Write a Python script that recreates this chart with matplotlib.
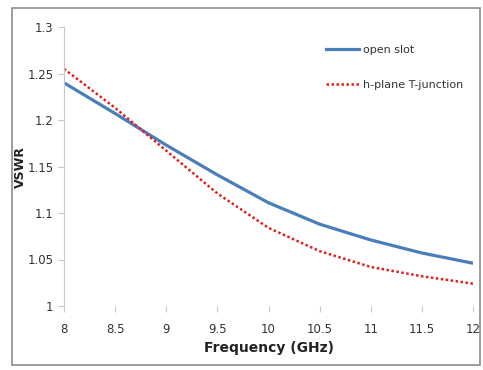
import matplotlib.pyplot as plt
from matplotlib.patches import Rectangle

freq = [8, 8.5, 9, 9.5, 10, 10.5, 11, 11.5, 12]
open_slot = [1.240, 1.207, 1.173, 1.141, 1.111, 1.088, 1.071, 1.057, 1.046]
t_junction = [1.255, 1.213, 1.167, 1.121, 1.084, 1.059, 1.042, 1.032, 1.024]
xticks = [8, 8.5, 9, 9.5, 10, 10.5, 11, 11.5, 12]
yticks = [1, 1.05, 1.1, 1.15, 1.2, 1.25, 1.3]

plt.rcParams['font.family'] = ['Liberation Sans Narrow', 'DejaVu Sans']

fig = plt.figure(figsize=(4.83, 3.70), dpi=100)
# outer chart frame
fig.patches.append(Rectangle((12/483, 5/370), 468/483, 357/370, transform=fig.transFigure,
                             fill=False, edgecolor='#8c8c8c', linewidth=1.2))
ax = fig.add_axes([64/483, 1-306/370, 409/483, 279/370])

ax.plot(freq, open_slot, color='#4a7ebb', linewidth=2.3, label='open slot')
ax.plot(freq, t_junction, color='#e0201b', linewidth=1.8, linestyle=(0, (1, 1)),
        label='h-plane T-junction')

ax.set_xlim(8, 12)
ax.set_ylim(1, 1.3)
ax.set_xticks(xticks)
ax.set_xticklabels([f'{v:g}' for v in xticks])
ax.set_yticks(yticks)
ax.set_yticklabels([f'{v:g}' for v in yticks])
for s in ['top', 'right', 'bottom']:
    ax.spines[s].set_visible(False)
ax.spines['left'].set_color('#c8c8c8')
ax.tick_params(axis='both', colors='#c8c8c8', labelcolor='#333333', labelsize=8.5,
               length=4, direction='out')
ax.tick_params(axis='x', pad=8)

ax.set_xlabel('Frequency (GHz)', fontsize=10, fontweight='bold', color='#222222', labelpad=4)
ax.set_ylabel('VSWR', fontsize=9, fontweight='bold', color='#222222',
              family='DejaVu Sans')
ax.yaxis.set_label_coords(-37/409, 0.5)

ax.legend(loc='upper right', bbox_to_anchor=(1.0, 0.97), frameon=False, fontsize=8,
          labelspacing=2.2, handlelength=3.0, handletextpad=0.3,
          labelcolor='#333333')

fig.savefig('out.png', dpi=100)
